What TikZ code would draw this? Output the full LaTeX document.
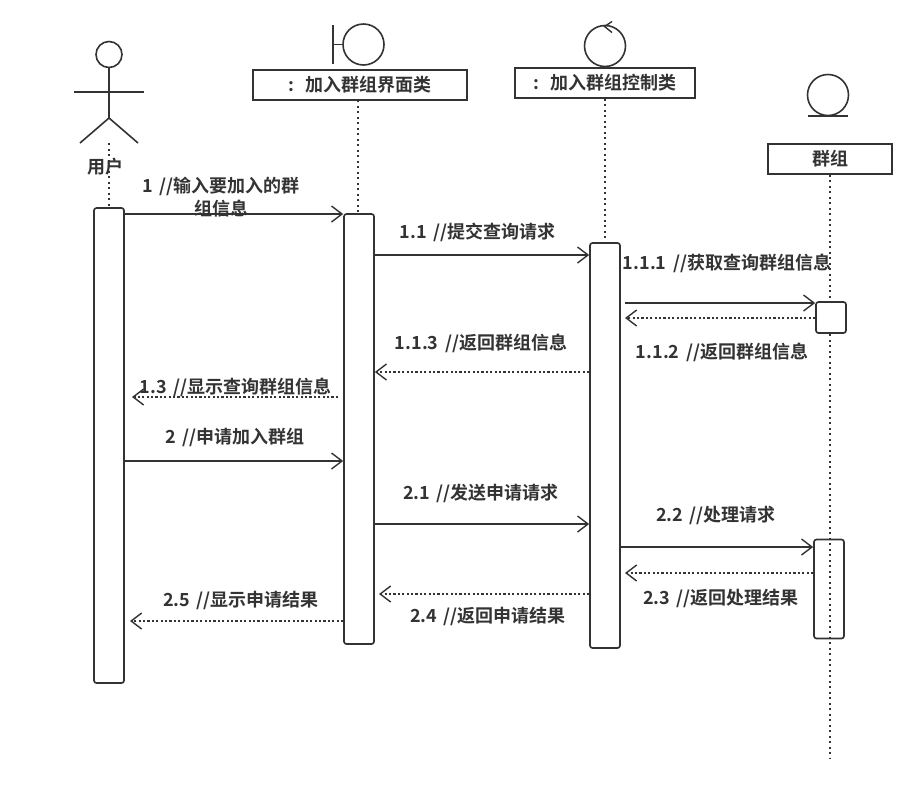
\documentclass[tikz,border=0pt]{standalone}
\usepackage{fontspec}
\setmainfont{Noto Sans CJK SC}[BoldFont={Noto Sans CJK SC Bold},WordSpace=1.6]
\usetikzlibrary{arrows.meta}
\definecolor{ink}{HTML}{333333}
\tikzset{
  ink line/.style={draw=ink,line width=1.6pt},
  thin ink/.style={draw=ink,line width=1.4pt},
  lifebox/.style={draw=ink,line width=1.8pt,fill=white,inner sep=0pt,font=\fontsize{18}{20}\selectfont\bfseries,text=ink},
  activation/.style={draw=ink,line width=1.7pt,fill=white,rounded corners=2.5pt,inner sep=0pt,minimum width=30pt},
  lifeline/.style={draw=ink,line width=1.5pt,dash pattern=on 2pt off 3.5pt},
  msg/.style={draw=ink,line width=1.5pt,-{Straight Barb[length=10.5pt,width=16pt,line width=1.4pt]}},
  reply/.style={msg,dash pattern=on 2.2pt off 2.2pt},
  msglabel/.style={inner sep=0pt,text=ink,align=center,font=\fontsize{18}{23}\selectfont\bfseries},
}
\begin{document}
\begin{tikzpicture}[x=1pt,y=-1pt]
\useasboundingbox (0,0) rectangle (917,785);
\fill[white] (0,0) rectangle (917,785);

% lifelines, drawn first so that boxes and labels sit over them
\node[lifebox,minimum width=214pt,minimum height=30pt] (bnd) at (360,85) {:\hspace{0.62em}加入群组界面类};
\node[lifebox,minimum width=180pt,minimum height=30pt] (ctl) at (605,83) {:\hspace{0.62em}加入群组控制类};
\node[lifebox,minimum width=124pt,minimum height=30pt] (ent) at (830,159) {群组};

\coordinate (actorfoot) at (109,143);
\coordinate (bndtop) at (358,100);
\coordinate (entend) at (830,758);

\draw[lifeline] (actorfoot) -- (109,208);
\draw[lifeline] (bndtop) -- (358,214);
\draw[lifeline] (ctl.south) -- (605,243);
\draw[lifeline] (ent.south) -- (entend);

% activation bars; the lower bar on the last lifeline lets the line show through
\node[activation,minimum height=475pt] (a1) at (109,445.5) {};
\node[activation,minimum height=430pt] (a2) at (359,429) {};
\node[activation,minimum height=405pt] (a3) at (605,445.5) {};
\node[activation,minimum height=31pt] (a4) at (831,317.5) {};
\node[activation,fill=none,minimum height=99pt] (a5) at (829,589) {};

% actor
\node[draw=ink,line width=1.6pt,circle,minimum size=26pt,inner sep=0pt] (head) at (109,54.5) {};
\coordinate (hip) at (109,118);
\draw[ink line] (head.south) -- (hip);
\draw[ink line] (74,92) -- (144,92);
\draw[ink line] (80,143) -- (hip) -- (138,143);
\node[msglabel] (lbluser) at (105,167) {用户};

% boundary stereotype
\node[draw=ink,line width=1.6pt,circle,minimum size=41pt,inner sep=0pt] (bndc) at (363.5,44.5) {};
\draw[ink line] (333,25) -- (333,64);
\draw[ink line] (333,44.5) -- (bndc.west);

% control stereotype
\node[draw=ink,line width=1.6pt,circle,minimum size=41pt,inner sep=0pt] (ctlc) at (605,46) {};
\draw[thin ink] (612,21.5) -- (604.5,26.5) -- (612,32.5);

% entity stereotype
\node[draw=ink,line width=1.6pt,circle,minimum size=41pt,inner sep=0pt] (entc) at (828,95) {};
\draw[ink line] (808,115.7) -- (848,115.7);

% messages
\draw[msg] (a1.east |- 0,214) -- (a2.west |- 0,214);
\draw[msg] (374.5,255) -- (a3.west |- 0,255);
\draw[msg] (625,303) -- (a4.west |- 0,303);
\draw[reply] (a4.west |- 0,318) -- (625,318);
\draw[reply] (a3.west |- 0,372) -- (a2.east |- 0,372);
\draw[reply] (338,397) -- (132,397);
\draw[msg] (a1.east |- 0,461) -- (a2.west |- 0,461);
\draw[msg] (a2.east |- 0,524) -- (a3.west |- 0,524);
\draw[msg] (620.5,547) -- (a5.west |- 0,547);
\draw[reply] (a5.west |- 0,573) -- (625,573);
\draw[reply] (a3.west |- 0,594) -- (379,594);
\draw[reply] (a2.west |- 0,621) -- (130,621);

% message labels
\node[msglabel] (m1) at (221,197) {1 //输入要加入的群\\组信息};
\node[msglabel] (m11) at (477.5,232) {1.1 //提交查询请求};
\node[msglabel] (m111) at (727,263) {1.1.1 //获取查询群组信息};
\node[msglabel] (m112) at (722,352) {1.1.2 //返回群组信息};
\node[msglabel] (m113) at (481,343) {1.1.3 //返回群组信息};
\node[msglabel] (m13) at (235.5,387) {1.3 //显示查询群组信息};
\node[msglabel] (m2) at (235,437) {2 //申请加入群组};
\node[msglabel] (m21) at (481,493) {2.1 //发送申请请求};
\node[msglabel] (m22) at (716,515) {2.2 //处理请求};
\node[msglabel] (m23) at (721,598) {2.3 //返回处理结果};
\node[msglabel] (m24) at (488,616) {2.4 //返回申请结果};
\node[msglabel] (m25) at (241,600) {2.5 //显示申请结果};
\end{tikzpicture}
\end{document}
